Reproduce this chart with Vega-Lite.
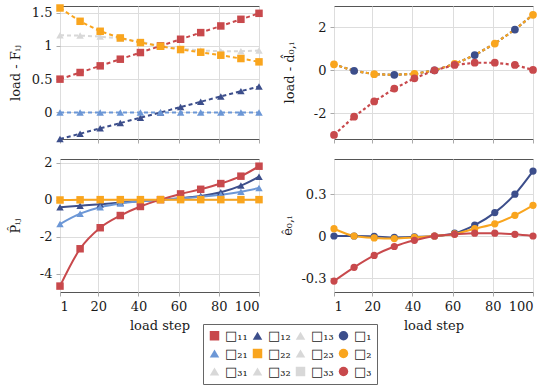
{
  "$schema": "https://vega.github.io/schema/vega-lite/v6.json",
  "background": "white",
  "padding": {"left": 8, "top": 3, "right": 5, "bottom": 4},
  "config": {
    "font": "DejaVu Serif",
    "view": {"stroke": "#555555", "strokeWidth": 1},
    "axis": {
      "labelFont": "DejaVu Serif", "labelFontSize": 13, "labelColor": "#1a1a1a",
      "titleFont": "DejaVu Serif", "titleFontSize": 13, "titleFontWeight": "normal", "titleColor": "#1a1a1a",
      "gridColor": "#dddddd", "gridWidth": 1, "domain": false,
      "tickColor": "#aaaaaa", "tickSize": 4, "labelPadding": 4
    },
    "legend": {"labelFont": "DejaVu Serif"}
  },
  "datasets": {
    "F": [
      {"step": 1, "series": "□₃₂", "value": 1.16}, {"step": 11, "series": "□₃₂", "value": 1.155}, {"step": 21, "series": "□₃₂", "value": 1.14}, {"step": 31, "series": "□₃₂", "value": 1.11}, {"step": 41, "series": "□₃₂", "value": 1.06}, {"step": 51, "series": "□₃₂", "value": 1.0}, {"step": 61, "series": "□₃₂", "value": 0.96}, {"step": 71, "series": "□₃₂", "value": 0.93}, {"step": 81, "series": "□₃₂", "value": 0.92}, {"step": 91, "series": "□₃₂", "value": 0.92}, {"step": 100, "series": "□₃₂", "value": 0.93},
      {"step": 1, "series": "□₁₁", "value": 0.5}, {"step": 11, "series": "□₁₁", "value": 0.6}, {"step": 21, "series": "□₁₁", "value": 0.7}, {"step": 31, "series": "□₁₁", "value": 0.8}, {"step": 41, "series": "□₁₁", "value": 0.9}, {"step": 51, "series": "□₁₁", "value": 1.0}, {"step": 61, "series": "□₁₁", "value": 1.1}, {"step": 71, "series": "□₁₁", "value": 1.2}, {"step": 81, "series": "□₁₁", "value": 1.3}, {"step": 91, "series": "□₁₁", "value": 1.4}, {"step": 100, "series": "□₁₁", "value": 1.49},
      {"step": 1, "series": "□₁₂", "value": -0.4}, {"step": 11, "series": "□₁₂", "value": -0.32}, {"step": 21, "series": "□₁₂", "value": -0.24}, {"step": 31, "series": "□₁₂", "value": -0.16}, {"step": 41, "series": "□₁₂", "value": -0.08}, {"step": 51, "series": "□₁₂", "value": 0.0}, {"step": 61, "series": "□₁₂", "value": 0.08}, {"step": 71, "series": "□₁₂", "value": 0.16}, {"step": 81, "series": "□₁₂", "value": 0.24}, {"step": 91, "series": "□₁₂", "value": 0.32}, {"step": 100, "series": "□₁₂", "value": 0.39},
      {"step": 1, "series": "□₂₁", "value": 0}, {"step": 11, "series": "□₂₁", "value": 0}, {"step": 21, "series": "□₂₁", "value": 0}, {"step": 31, "series": "□₂₁", "value": 0}, {"step": 41, "series": "□₂₁", "value": 0}, {"step": 51, "series": "□₂₁", "value": 0}, {"step": 61, "series": "□₂₁", "value": 0}, {"step": 71, "series": "□₂₁", "value": 0}, {"step": 81, "series": "□₂₁", "value": 0}, {"step": 91, "series": "□₂₁", "value": 0}, {"step": 100, "series": "□₂₁", "value": 0},
      {"step": 1, "series": "□₂₂", "value": 1.57}, {"step": 11, "series": "□₂₂", "value": 1.37}, {"step": 21, "series": "□₂₂", "value": 1.22}, {"step": 31, "series": "□₂₂", "value": 1.12}, {"step": 41, "series": "□₂₂", "value": 1.05}, {"step": 51, "series": "□₂₂", "value": 0.995}, {"step": 61, "series": "□₂₂", "value": 0.945}, {"step": 71, "series": "□₂₂", "value": 0.905}, {"step": 81, "series": "□₂₂", "value": 0.86}, {"step": 91, "series": "□₂₂", "value": 0.81}, {"step": 100, "series": "□₂₂", "value": 0.76}
    ],
    "D": [
      {"step": 1, "series": "□₁", "value": 0.28}, {"step": 11, "series": "□₁", "value": -0.02}, {"step": 21, "series": "□₁", "value": -0.18}, {"step": 31, "series": "□₁", "value": -0.21}, {"step": 41, "series": "□₁", "value": -0.16}, {"step": 51, "series": "□₁", "value": 0.0}, {"step": 61, "series": "□₁", "value": 0.3}, {"step": 71, "series": "□₁", "value": 0.71}, {"step": 81, "series": "□₁", "value": 1.25}, {"step": 91, "series": "□₁", "value": 1.9}, {"step": 100, "series": "□₁", "value": 2.59},
      {"step": 1, "series": "□₂", "value": 0.28}, {"step": 11, "series": "□₂", "value": -0.02}, {"step": 21, "series": "□₂", "value": -0.18}, {"step": 31, "series": "□₂", "value": -0.21}, {"step": 41, "series": "□₂", "value": -0.16}, {"step": 51, "series": "□₂", "value": 0.0}, {"step": 61, "series": "□₂", "value": 0.3}, {"step": 71, "series": "□₂", "value": 0.71}, {"step": 81, "series": "□₂", "value": 1.25}, {"step": 91, "series": "□₂", "value": 1.9}, {"step": 100, "series": "□₂", "value": 2.59},
      {"step": 1, "series": "□₃", "value": -3.01}, {"step": 11, "series": "□₃", "value": -2.16}, {"step": 21, "series": "□₃", "value": -1.45}, {"step": 31, "series": "□₃", "value": -0.85}, {"step": 41, "series": "□₃", "value": -0.37}, {"step": 51, "series": "□₃", "value": 0.0}, {"step": 61, "series": "□₃", "value": 0.25}, {"step": 71, "series": "□₃", "value": 0.355}, {"step": 81, "series": "□₃", "value": 0.355}, {"step": 91, "series": "□₃", "value": 0.25}, {"step": 100, "series": "□₃", "value": 0.02}
    ],
    "P": [
      {"step": 1, "series": "□₁₂", "value": -0.41}, {"step": 11, "series": "□₁₂", "value": -0.33}, {"step": 21, "series": "□₁₂", "value": -0.25}, {"step": 31, "series": "□₁₂", "value": -0.16}, {"step": 41, "series": "□₁₂", "value": -0.08}, {"step": 51, "series": "□₁₂", "value": 0.0}, {"step": 61, "series": "□₁₂", "value": 0.08}, {"step": 71, "series": "□₁₂", "value": 0.2}, {"step": 81, "series": "□₁₂", "value": 0.4}, {"step": 91, "series": "□₁₂", "value": 0.76}, {"step": 100, "series": "□₁₂", "value": 1.24},
      {"step": 1, "series": "□₂₁", "value": -1.32}, {"step": 11, "series": "□₂₁", "value": -0.76}, {"step": 21, "series": "□₂₁", "value": -0.41}, {"step": 31, "series": "□₂₁", "value": -0.21}, {"step": 41, "series": "□₂₁", "value": -0.09}, {"step": 51, "series": "□₂₁", "value": 0.0}, {"step": 61, "series": "□₂₁", "value": 0.06}, {"step": 71, "series": "□₂₁", "value": 0.15}, {"step": 81, "series": "□₂₁", "value": 0.27}, {"step": 91, "series": "□₂₁", "value": 0.43}, {"step": 100, "series": "□₂₁", "value": 0.63},
      {"step": 1, "series": "□₁₁", "value": -4.68}, {"step": 11, "series": "□₁₁", "value": -2.66}, {"step": 21, "series": "□₁₁", "value": -1.52}, {"step": 31, "series": "□₁₁", "value": -0.86}, {"step": 41, "series": "□₁₁", "value": -0.37}, {"step": 51, "series": "□₁₁", "value": 0.0}, {"step": 61, "series": "□₁₁", "value": 0.31}, {"step": 71, "series": "□₁₁", "value": 0.56}, {"step": 81, "series": "□₁₁", "value": 0.87}, {"step": 91, "series": "□₁₁", "value": 1.27}, {"step": 100, "series": "□₁₁", "value": 1.81},
      {"step": 1, "series": "□₂₂", "value": -0.02}, {"step": 11, "series": "□₂₂", "value": -0.01}, {"step": 21, "series": "□₂₂", "value": 0}, {"step": 31, "series": "□₂₂", "value": 0}, {"step": 41, "series": "□₂₂", "value": 0}, {"step": 51, "series": "□₂₂", "value": 0}, {"step": 61, "series": "□₂₂", "value": 0}, {"step": 71, "series": "□₂₂", "value": 0}, {"step": 81, "series": "□₂₂", "value": 0}, {"step": 91, "series": "□₂₂", "value": 0}, {"step": 100, "series": "□₂₂", "value": 0}
    ],
    "E": [
      {"step": 1, "series": "□₁", "value": 0.0}, {"step": 11, "series": "□₁", "value": 0.0}, {"step": 21, "series": "□₁", "value": -0.003}, {"step": 31, "series": "□₁", "value": -0.01}, {"step": 41, "series": "□₁", "value": -0.006}, {"step": 51, "series": "□₁", "value": 0.0}, {"step": 61, "series": "□₁", "value": 0.02}, {"step": 71, "series": "□₁", "value": 0.078}, {"step": 81, "series": "□₁", "value": 0.167}, {"step": 91, "series": "□₁", "value": 0.299}, {"step": 100, "series": "□₁", "value": 0.464},
      {"step": 1, "series": "□₂", "value": 0.052}, {"step": 11, "series": "□₂", "value": 0.0}, {"step": 21, "series": "□₂", "value": -0.014}, {"step": 31, "series": "□₂", "value": -0.018}, {"step": 41, "series": "□₂", "value": -0.01}, {"step": 51, "series": "□₂", "value": 0.0}, {"step": 61, "series": "□₂", "value": 0.015}, {"step": 71, "series": "□₂", "value": 0.052}, {"step": 81, "series": "□₂", "value": 0.087}, {"step": 91, "series": "□₂", "value": 0.148}, {"step": 100, "series": "□₂", "value": 0.219},
      {"step": 1, "series": "□₃", "value": -0.322}, {"step": 11, "series": "□₃", "value": -0.224}, {"step": 21, "series": "□₃", "value": -0.139}, {"step": 31, "series": "□₃", "value": -0.075}, {"step": 41, "series": "□₃", "value": -0.031}, {"step": 51, "series": "□₃", "value": 0.0}, {"step": 61, "series": "□₃", "value": 0.012}, {"step": 71, "series": "□₃", "value": 0.02}, {"step": 81, "series": "□₃", "value": 0.02}, {"step": 91, "series": "□₃", "value": 0.012}, {"step": 100, "series": "□₃", "value": 0.0}
    ]
  },
  "columns": 2,
  "spacing": {"row": 20, "column": 75},
  "bounds": "flush",
  "resolve": {
    "scale": {"x": "independent", "y": "independent", "color": "shared", "shape": "shared", "stroke": "shared"},
    "legend": {"color": "shared", "shape": "shared", "stroke": "shared"}
  },
  "concat": [
    {
      "width": 199, "height": 133,
      "data": {"name": "F"},
      "encoding": {
        "x": {"field": "step", "type": "quantitative", "scale": {"domain": [1, 100], "nice": false, "zero": false}, "axis": {"values": [1, 20, 40, 60, 80, 100], "labels": false, "title": null}},
        "y": {"field": "value", "type": "quantitative", "scale": {"domain": [-0.4, 1.6], "nice": false, "zero": false}, "axis": {"values": [0, 0.5, 1, 1.5], "labelExpr": "'' + datum.value", "title": "load - Fᵢⱼ", "titleX": -45, "titleBaseline": "middle"}}
      },
      "layer": [
        {
          "mark": {"type": "line", "strokeWidth": 2, "strokeDash": [4, 3]},
          "encoding": {
            "stroke": {"field": "series", "type": "nominal", "legend": null,
              "scale": {"domain": ["□₃", "□₃₃", "□₃₂", "□₃₁", "□₂", "□₂₃", "□₂₂", "□₂₁", "□₁", "□₁₃", "□₁₂", "□₁₁"], "range": ["#c8494c", "#d8d8d8", "#d8d8d8", "#d8d8d8", "#f9a51e", "#d8d8d8", "#f9a51e", "#6c97d6", "#3c4e8b", "#d8d8d8", "#3c4e8b", "#c8494c"]}}
          }
        },
        {
          "mark": {"type": "point", "filled": true, "opacity": 1, "size": 56},
          "encoding": {
            "color": {"field": "series", "type": "nominal",
              "scale": {"domain": ["□₁₁", "□₁₂", "□₁₃", "□₁", "□₂₁", "□₂₂", "□₂₃", "□₂", "□₃₁", "□₃₂", "□₃₃", "□₃"], "range": ["#c8494c", "#3c4e8b", "#d8d8d8", "#3c4e8b", "#6c97d6", "#f9a51e", "#d8d8d8", "#f9a51e", "#d8d8d8", "#d8d8d8", "#d8d8d8", "#c8494c"]},
              "legend": {"title": null, "orient": "none", "direction": "horizontal", "legendX": 143, "legendY": 318, "columns": 4, "symbolSize": 90, "symbolStrokeWidth": 0, "labelFontSize": 13, "labelFont": "DejaVu Serif", "labelColor": "#1a1a1a", "padding": 5, "rowPadding": 4, "columnPadding": 3, "strokeColor": "#666666", "fillColor": "white", "labelLimit": 0}},
            "shape": {"field": "series", "type": "nominal",
              "scale": {"domain": ["□₁₁", "□₁₂", "□₁₃", "□₁", "□₂₁", "□₂₂", "□₂₃", "□₂", "□₃₁", "□₃₂", "□₃₃", "□₃"], "range": ["square", "triangle-up", "triangle-up", "circle", "triangle-up", "square", "triangle-up", "circle", "triangle-up", "triangle-up", "square", "circle"]},
              "legend": {"title": null, "orient": "none", "direction": "horizontal", "legendX": 143, "legendY": 318, "columns": 4, "symbolSize": 90, "symbolStrokeWidth": 0, "labelFontSize": 13, "labelFont": "DejaVu Serif", "labelColor": "#1a1a1a", "padding": 5, "rowPadding": 4, "columnPadding": 3, "strokeColor": "#666666", "fillColor": "white", "labelLimit": 0}}
          }
        }
      ]
    },
    {
      "width": 199, "height": 133,
      "data": {"name": "D"},
      "encoding": {
        "x": {"field": "step", "type": "quantitative", "scale": {"domain": [1, 100], "nice": false, "zero": false}, "axis": {"values": [1, 20, 40, 60, 80, 100], "labels": false, "title": null}},
        "y": {"field": "value", "type": "quantitative", "scale": {"domain": [-3.2, 3.0], "nice": false, "zero": false}, "axis": {"values": [-2, 0, 2], "labelExpr": "'' + datum.value", "title": "load - d̂₀,ᵢ", "titleX": -45, "titleBaseline": "middle"}}
      },
      "layer": [
        {
          "mark": {"type": "line", "strokeWidth": 2.2, "strokeDash": [3, 2.5]},
          "encoding": {
            "stroke": {"field": "series", "type": "nominal", "legend": null,
              "scale": {"domain": ["□₃", "□₃₃", "□₃₂", "□₃₁", "□₂", "□₂₃", "□₂₂", "□₂₁", "□₁", "□₁₃", "□₁₂", "□₁₁"], "range": ["#c8494c", "#d8d8d8", "#d8d8d8", "#d8d8d8", "#f9a51e", "#d8d8d8", "#f9a51e", "#6c97d6", "#3c4e8b", "#d8d8d8", "#3c4e8b", "#c8494c"]}}
          }
        },
        {
          "transform": [{"filter": "datum.series == '□₃' || (datum.series == '□₁' && datum.step % 20 == 11) || (datum.series == '□₂' && (datum.step % 20 == 1 || datum.step == 100))"}],
          "mark": {"type": "point", "filled": true, "opacity": 1, "size": 60},
          "encoding": {
            "color": {"field": "series", "type": "nominal",
              "scale": {"domain": ["□₁₁", "□₁₂", "□₁₃", "□₁", "□₂₁", "□₂₂", "□₂₃", "□₂", "□₃₁", "□₃₂", "□₃₃", "□₃"], "range": ["#c8494c", "#3c4e8b", "#d8d8d8", "#3c4e8b", "#6c97d6", "#f9a51e", "#d8d8d8", "#f9a51e", "#d8d8d8", "#d8d8d8", "#d8d8d8", "#c8494c"]},
              "legend": {"title": null, "orient": "none", "direction": "horizontal", "legendX": 143, "legendY": 318, "columns": 4, "symbolSize": 90, "symbolStrokeWidth": 0, "labelFontSize": 13, "labelFont": "DejaVu Serif", "labelColor": "#1a1a1a", "padding": 5, "rowPadding": 4, "columnPadding": 3, "strokeColor": "#666666", "fillColor": "white", "labelLimit": 0}},
            "shape": {"field": "series", "type": "nominal",
              "scale": {"domain": ["□₁₁", "□₁₂", "□₁₃", "□₁", "□₂₁", "□₂₂", "□₂₃", "□₂", "□₃₁", "□₃₂", "□₃₃", "□₃"], "range": ["square", "triangle-up", "triangle-up", "circle", "triangle-up", "square", "triangle-up", "circle", "triangle-up", "triangle-up", "square", "circle"]},
              "legend": {"title": null, "orient": "none", "direction": "horizontal", "legendX": 143, "legendY": 318, "columns": 4, "symbolSize": 90, "symbolStrokeWidth": 0, "labelFontSize": 13, "labelFont": "DejaVu Serif", "labelColor": "#1a1a1a", "padding": 5, "rowPadding": 4, "columnPadding": 3, "strokeColor": "#666666", "fillColor": "white", "labelLimit": 0}}
          }
        }
      ]
    },
    {
      "width": 199, "height": 133,
      "data": {"name": "P"},
      "encoding": {
        "x": {"field": "step", "type": "quantitative", "scale": {"domain": [1, 100], "nice": false, "zero": false}, "axis": {"values": [1, 20, 40, 60, 80, 100], "labelExpr": "'' + datum.value", "title": "load step", "titlePadding": 6}},
        "y": {"field": "value", "type": "quantitative", "scale": {"domain": [-5, 2.2], "nice": false, "zero": false}, "axis": {"values": [-4, -2, 0, 2], "labelExpr": "'' + datum.value", "title": "P̂ᵢⱼ", "titleX": -45, "titleBaseline": "middle"}}
      },
      "layer": [
        {
          "mark": {"type": "line", "strokeWidth": 2, "interpolate": "monotone"},
          "encoding": {
            "stroke": {"field": "series", "type": "nominal", "legend": null,
              "scale": {"domain": ["□₃", "□₃₃", "□₃₂", "□₃₁", "□₂", "□₂₃", "□₂₂", "□₂₁", "□₁", "□₁₃", "□₁₂", "□₁₁"], "range": ["#c8494c", "#d8d8d8", "#d8d8d8", "#d8d8d8", "#f9a51e", "#d8d8d8", "#f9a51e", "#6c97d6", "#3c4e8b", "#d8d8d8", "#3c4e8b", "#c8494c"]}}
          }
        },
        {
          "mark": {"type": "point", "filled": true, "opacity": 1, "size": 56},
          "encoding": {
            "color": {"field": "series", "type": "nominal",
              "scale": {"domain": ["□₁₁", "□₁₂", "□₁₃", "□₁", "□₂₁", "□₂₂", "□₂₃", "□₂", "□₃₁", "□₃₂", "□₃₃", "□₃"], "range": ["#c8494c", "#3c4e8b", "#d8d8d8", "#3c4e8b", "#6c97d6", "#f9a51e", "#d8d8d8", "#f9a51e", "#d8d8d8", "#d8d8d8", "#d8d8d8", "#c8494c"]},
              "legend": {"title": null, "orient": "none", "direction": "horizontal", "legendX": 143, "legendY": 318, "columns": 4, "symbolSize": 90, "symbolStrokeWidth": 0, "labelFontSize": 13, "labelFont": "DejaVu Serif", "labelColor": "#1a1a1a", "padding": 5, "rowPadding": 4, "columnPadding": 3, "strokeColor": "#666666", "fillColor": "white", "labelLimit": 0}},
            "shape": {"field": "series", "type": "nominal",
              "scale": {"domain": ["□₁₁", "□₁₂", "□₁₃", "□₁", "□₂₁", "□₂₂", "□₂₃", "□₂", "□₃₁", "□₃₂", "□₃₃", "□₃"], "range": ["square", "triangle-up", "triangle-up", "circle", "triangle-up", "square", "triangle-up", "circle", "triangle-up", "triangle-up", "square", "circle"]},
              "legend": {"title": null, "orient": "none", "direction": "horizontal", "legendX": 143, "legendY": 318, "columns": 4, "symbolSize": 90, "symbolStrokeWidth": 0, "labelFontSize": 13, "labelFont": "DejaVu Serif", "labelColor": "#1a1a1a", "padding": 5, "rowPadding": 4, "columnPadding": 3, "strokeColor": "#666666", "fillColor": "white", "labelLimit": 0}}
          }
        }
      ]
    },
    {
      "width": 199, "height": 133,
      "data": {"name": "E"},
      "encoding": {
        "x": {"field": "step", "type": "quantitative", "scale": {"domain": [1, 100], "nice": false, "zero": false}, "axis": {"values": [1, 20, 40, 60, 80, 100], "labelExpr": "'' + datum.value", "title": "load step", "titlePadding": 6}},
        "y": {"field": "value", "type": "quantitative", "scale": {"domain": [-0.4, 0.55], "nice": false, "zero": false}, "axis": {"values": [-0.3, 0, 0.3], "labelExpr": "'' + datum.value", "title": "ê₀,ᵢ", "titleX": -47, "titleBaseline": "middle"}}
      },
      "layer": [
        {
          "mark": {"type": "line", "strokeWidth": 2, "interpolate": "monotone"},
          "encoding": {
            "stroke": {"field": "series", "type": "nominal", "legend": null,
              "scale": {"domain": ["□₃", "□₃₃", "□₃₂", "□₃₁", "□₂", "□₂₃", "□₂₂", "□₂₁", "□₁", "□₁₃", "□₁₂", "□₁₁"], "range": ["#c8494c", "#d8d8d8", "#d8d8d8", "#d8d8d8", "#f9a51e", "#d8d8d8", "#f9a51e", "#6c97d6", "#3c4e8b", "#d8d8d8", "#3c4e8b", "#c8494c"]}}
          }
        },
        {
          "mark": {"type": "point", "filled": true, "opacity": 1, "size": 52},
          "encoding": {
            "color": {"field": "series", "type": "nominal",
              "scale": {"domain": ["□₁₁", "□₁₂", "□₁₃", "□₁", "□₂₁", "□₂₂", "□₂₃", "□₂", "□₃₁", "□₃₂", "□₃₃", "□₃"], "range": ["#c8494c", "#3c4e8b", "#d8d8d8", "#3c4e8b", "#6c97d6", "#f9a51e", "#d8d8d8", "#f9a51e", "#d8d8d8", "#d8d8d8", "#d8d8d8", "#c8494c"]},
              "legend": {"title": null, "orient": "none", "direction": "horizontal", "legendX": 143, "legendY": 318, "columns": 4, "symbolSize": 90, "symbolStrokeWidth": 0, "labelFontSize": 13, "labelFont": "DejaVu Serif", "labelColor": "#1a1a1a", "padding": 5, "rowPadding": 4, "columnPadding": 3, "strokeColor": "#666666", "fillColor": "white", "labelLimit": 0}},
            "shape": {"field": "series", "type": "nominal",
              "scale": {"domain": ["□₁₁", "□₁₂", "□₁₃", "□₁", "□₂₁", "□₂₂", "□₂₃", "□₂", "□₃₁", "□₃₂", "□₃₃", "□₃"], "range": ["square", "triangle-up", "triangle-up", "circle", "triangle-up", "square", "triangle-up", "circle", "triangle-up", "triangle-up", "square", "circle"]},
              "legend": {"title": null, "orient": "none", "direction": "horizontal", "legendX": 143, "legendY": 318, "columns": 4, "symbolSize": 90, "symbolStrokeWidth": 0, "labelFontSize": 13, "labelFont": "DejaVu Serif", "labelColor": "#1a1a1a", "padding": 5, "rowPadding": 4, "columnPadding": 3, "strokeColor": "#666666", "fillColor": "white", "labelLimit": 0}}
          }
        }
      ]
    }
  ]
}
